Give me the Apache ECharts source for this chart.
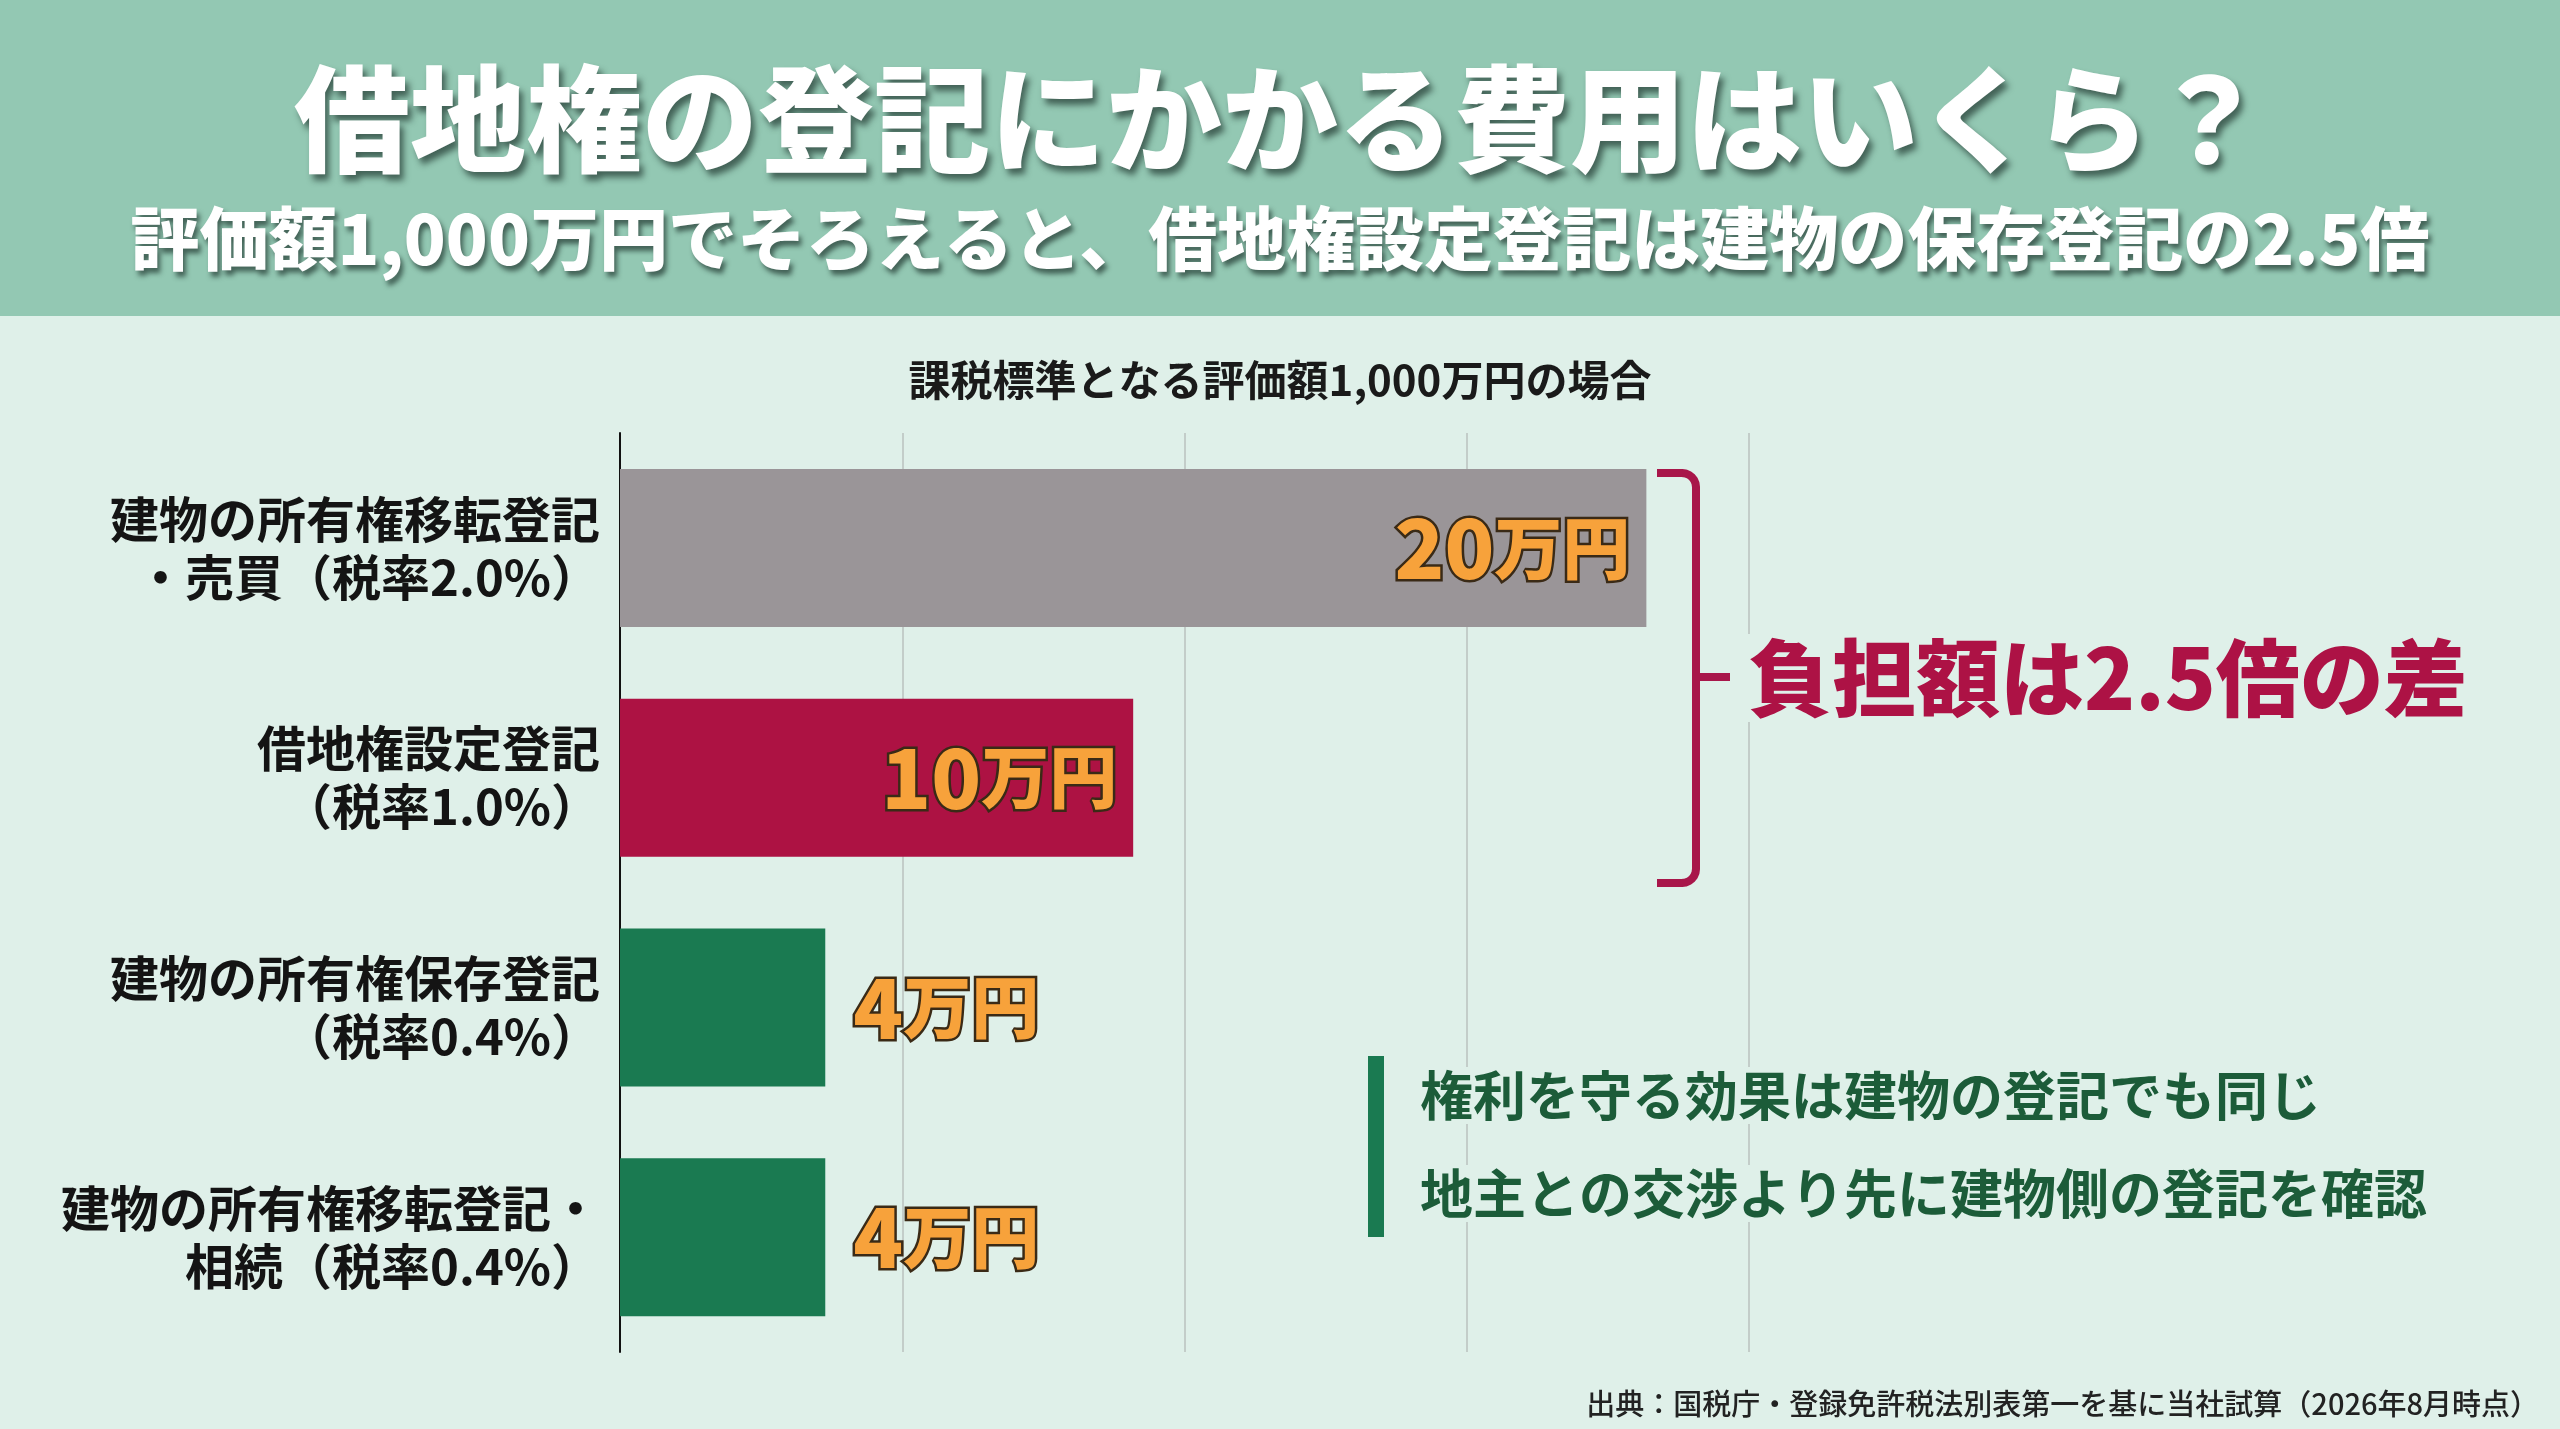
<!DOCTYPE html>
<html>
<head>
<meta charset="utf-8">
<script src="https://cdn.jsdelivr.net/npm/echarts@6/dist/echarts.min.js"></script>
<style>
  html, body { margin: 0; padding: 0; background: #dff0e9; }
  #chart { width: 2560px; height: 1429px; }
</style>
</head>
<body>
<div id="chart"></div>
<script>
// 課税標準となる評価額1,000万円の場合
var categories = [
    '建物の所有権移転登記\n・売買（税率2.0%）',
    '借地権設定登記\n（税率1.0%）',
    '建物の所有権保存登記\n（税率0.4%）',
    '建物の所有権移転登記・\n相続（税率0.4%）'
];
var costValues = [20, 10, 4, 4];          // 万円
var barColors = ['#9a9598', '#ad1243', '#1a7a51', '#1a7a51'];
var labelInside = [true, true, false, false];

var FONT = '"Noto Sans CJK JP", "Noto Sans", sans-serif';
var BG = '#dff0e9';
var BRACKET = '#a8164a';

var chart = echarts.init(document.getElementById('chart'));

var barData = costValues.map(function (v, i) {
    return {
        value: v,
        itemStyle: { color: barColors[i] },
        label: labelInside[i]
            ? { position: 'insideRight', distance: 16 }
            : { position: 'right', distance: 28 }
    };
});

// 角の丸い括弧（上下）
function cornerPoints(xEnd, y, xv, dir) {
    var r = 14, pts = [[xEnd, y]];
    for (var k = 0; k <= 6; k++) {
        var a = Math.PI / 2 * k / 6;
        pts.push([xv - r + r * Math.sin(a), y + dir * (r - r * Math.cos(a))]);
    }
    return pts;
}
var topPts = cornerPoints(1657, 473, 1696, 1);
var botPts = cornerPoints(1657, 883, 1696, -1);
var bracketPts = topPts.concat(botPts.slice().reverse());

var option = {
    backgroundColor: BG,
    textStyle: { fontFamily: FONT },
    title: [
        {
            text: '借地権の登記にかかる費用はいくら？',
            left: 'center',
            top: 55,
            textStyle: {
                fontFamily: FONT, fontSize: 116, fontWeight: 900, color: '#ffffff', lineHeight: 118,
                textShadowColor: 'rgba(25,45,38,0.65)', textShadowBlur: 6,
                textShadowOffsetX: 4, textShadowOffsetY: 6
            }
        },
        {
            text: '評価額1,000万円でそろえると、借地権設定登記は建物の保存登記の2.5倍',
            left: 'center',
            top: 199,
            textStyle: {
                fontFamily: FONT, fontSize: 69, fontWeight: 900, color: '#ffffff', lineHeight: 70,
                textShadowColor: 'rgba(25,45,38,0.65)', textShadowBlur: 5,
                textShadowOffsetX: 3, textShadowOffsetY: 5
            }
        },
        {
            text: '課税標準となる評価額1,000万円の場合',
            left: 'center',
            top: 353,
            textStyle: { fontFamily: FONT, fontSize: 42, fontWeight: 'bold', color: '#1a1a1a', lineHeight: 44 }
        },
        {
            text: '出典：国税庁・登録免許税法別表第一を基に当社試算（2026年8月時点）',
            right: 16,
            top: 1383,
            textStyle: { fontFamily: FONT, fontSize: 29, fontWeight: 500, color: '#222222', lineHeight: 31 }
        }
    ],
    grid: { left: 620, right: 811, top: 433, bottom: 77 },
    xAxis: [
        {
            type: 'value', min: 0, max: 22,
            show: false
        },
        {
            // 目盛り線のみ
            type: 'value', min: 0, max: 4, interval: 1,
            position: 'top',
            axisLine: { show: false }, axisTick: { show: false }, axisLabel: { show: false },
            splitLine: { show: true, lineStyle: { color: '#c3cdc9', width: 2 } }
        }
    ],
    yAxis: {
        type: 'category',
        inverse: true,
        data: categories,
        axisLine: { show: true, lineStyle: { color: '#111111', width: 2 } },
        axisTick: { show: false },
        axisLabel: {
            fontFamily: FONT, fontSize: 49, fontWeight: 'bold', color: '#141414',
            lineHeight: 58, align: 'right', margin: 20
        }
    },
    series: [{
        type: 'bar',
        xAxisIndex: 0,
        data: barData,
        barWidth: 158,
        label: {
            show: true,
            formatter: function (p) { return '{n|' + p.value + '}{u|万円}'; },
            rich: {
                n: {
                    fontFamily: FONT, fontSize: 82, fontWeight: 900, color: '#f7a23b',
                    textBorderColor: '#3a2a16', textBorderWidth: 5
                },
                u: {
                    fontFamily: FONT, fontSize: 68, fontWeight: 900, color: '#f7a23b',
                    textBorderColor: '#3a2a16', textBorderWidth: 5
                }
            }
        }
    }],
    graphic: [
        { type: 'rect', z: -1, shape: { x: 0, y: 0, width: 2560, height: 316 }, style: { fill: '#93c8b3' } },
        {
            type: 'polyline', z: 10,
            shape: { points: bracketPts },
            style: { stroke: BRACKET, lineWidth: 8, fill: null, lineJoin: 'round' }
        },
        {
            type: 'line', z: 10,
            shape: { x1: 1696, y1: 677, x2: 1730, y2: 677 },
            style: { stroke: BRACKET, lineWidth: 8 }
        },
        {
            type: 'text', z: 10, left: 1744, top: 634,
            style: {
                text: '負担額は2.5倍の差', fontFamily: FONT, fontSize: 84, fontWeight: 900,
                fill: '#ad1245', backgroundColor: BG, padding: [2, 4, 2, 4]
            }
        },
        { type: 'rect', z: 10, shape: { x: 1368, y: 1056, width: 16, height: 181 }, style: { fill: '#1a7a51' } },
        {
            type: 'text', z: 10, left: 1414, top: 1067,
            style: {
                text: '権利を守る効果は建物の登記でも同じ', fontFamily: FONT, fontSize: 53, fontWeight: 'bold',
                fill: '#1c5c39', backgroundColor: BG, padding: [2, 6, 2, 6]
            }
        },
        {
            type: 'text', z: 10, left: 1414, top: 1165,
            style: {
                text: '地主との交渉より先に建物側の登記を確認', fontFamily: FONT, fontSize: 53, fontWeight: 'bold',
                fill: '#1c5c39', backgroundColor: BG, padding: [2, 6, 2, 6]
            }
        }
    ]
};

chart.setOption(option);
</script>
</body>
</html>
